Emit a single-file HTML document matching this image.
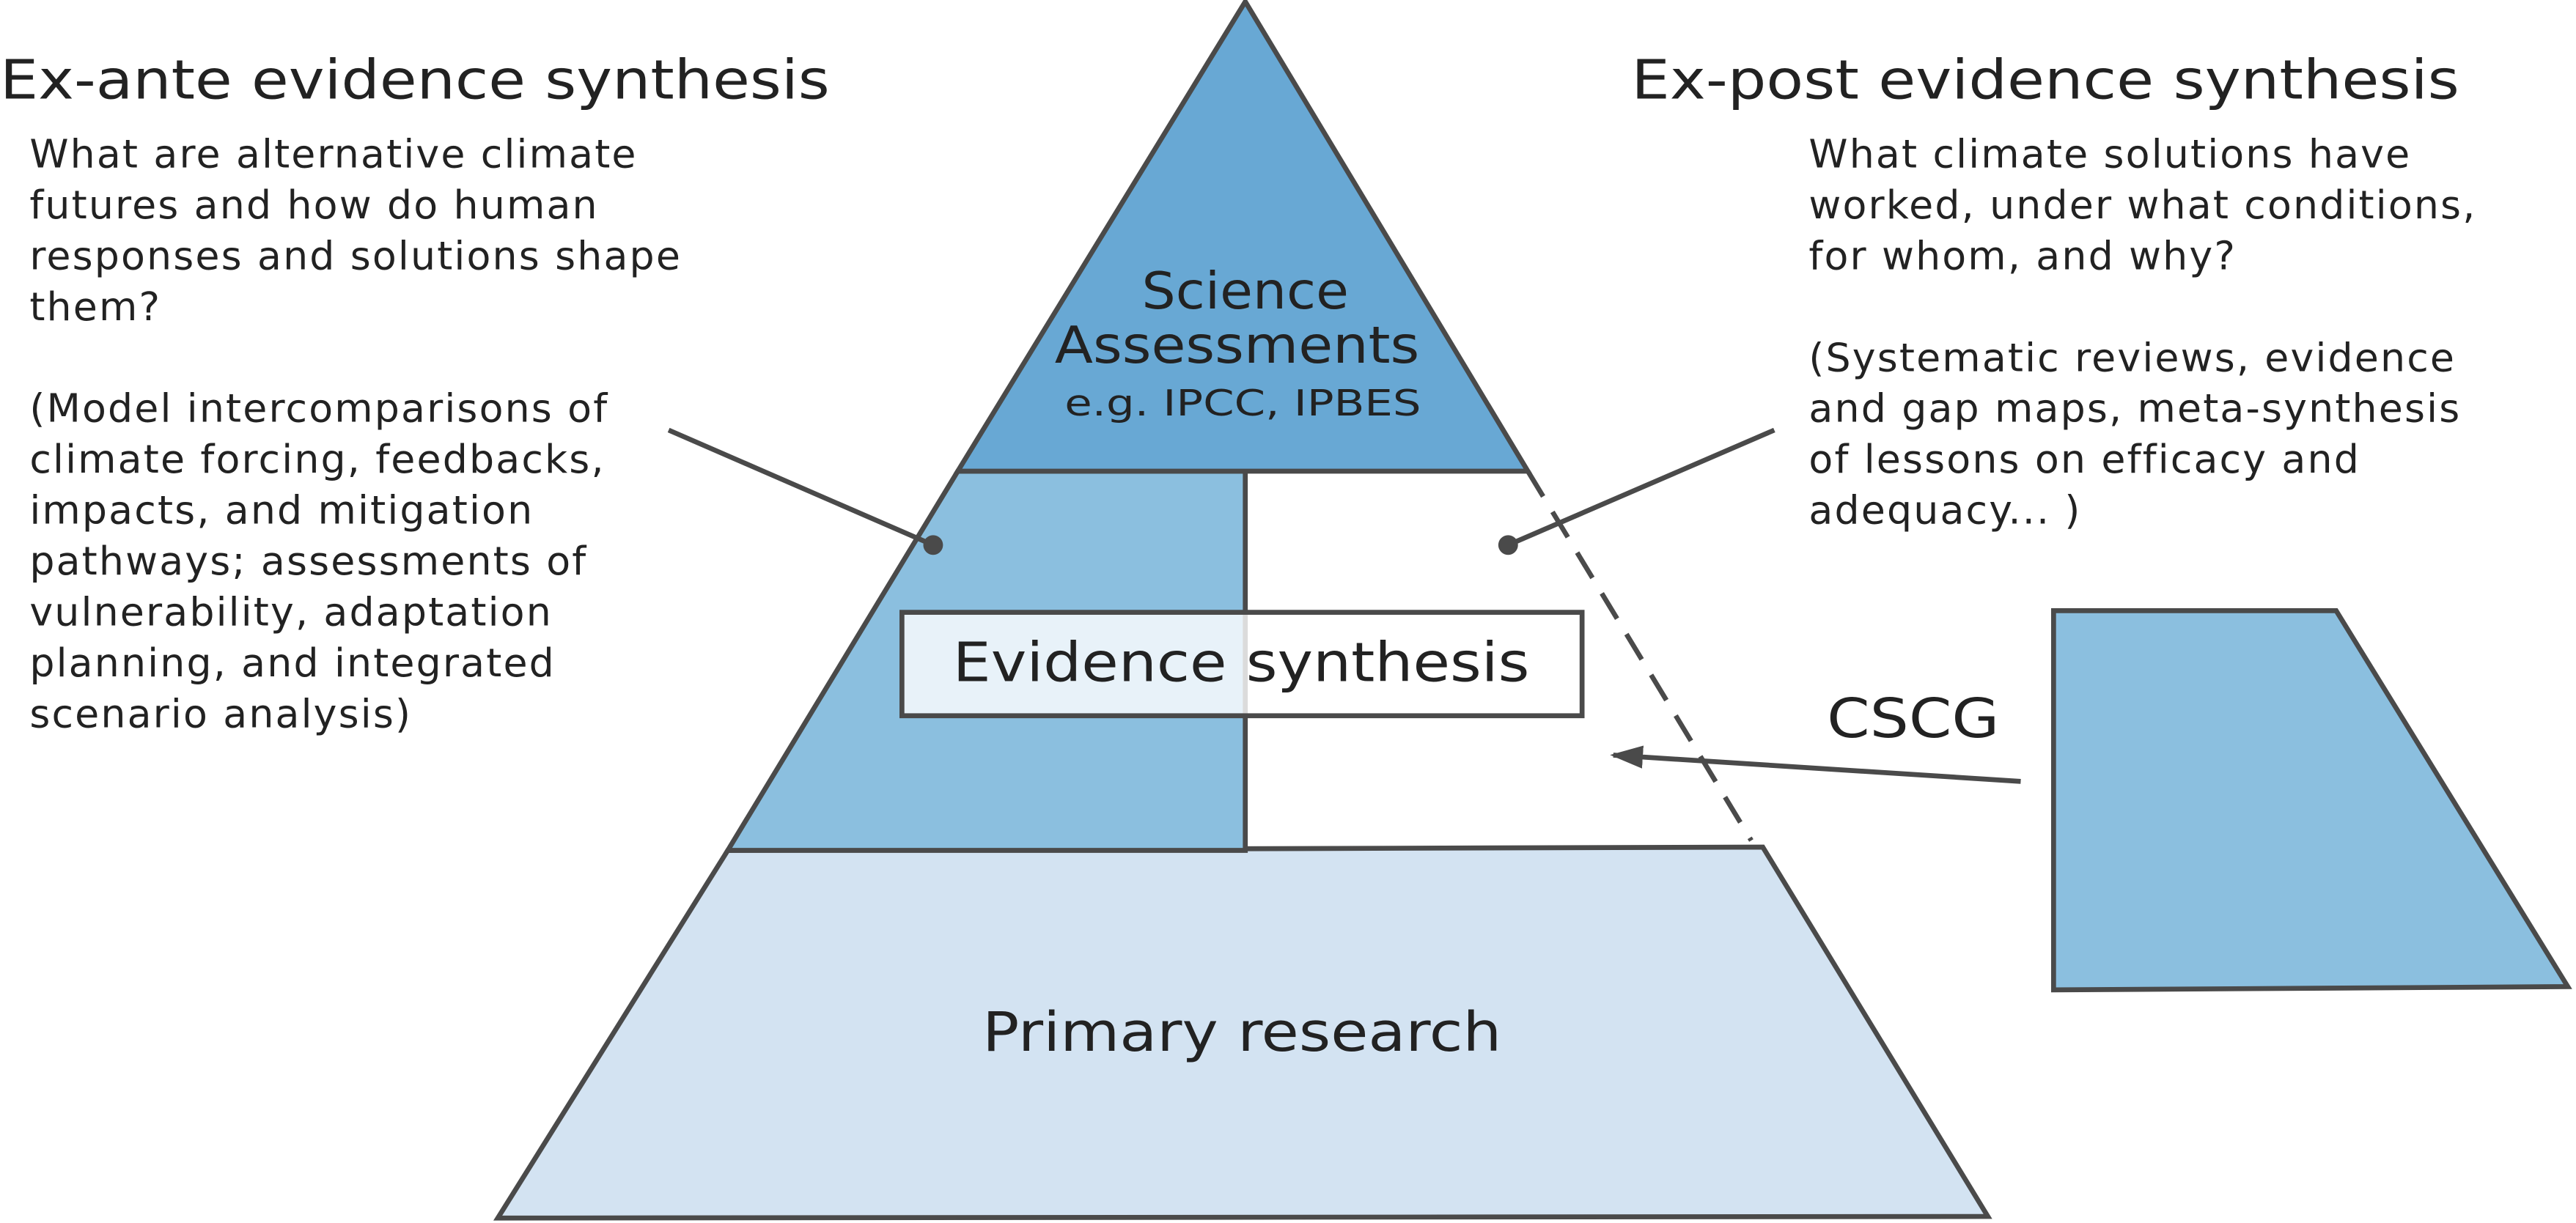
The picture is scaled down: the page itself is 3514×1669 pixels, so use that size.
<!DOCTYPE html>
<html><head><meta charset="utf-8">
<style>
html,body{margin:0;padding:0;background:#fff;}
svg{display:block;}
text{font-family:"DejaVu Sans","Liberation Sans",sans-serif;fill:#222;}
</style></head>
<body>
<svg width="3514" height="1669" viewBox="0 0 1568 745" preserveAspectRatio="none" xmlns="http://www.w3.org/2000/svg">
  <defs>
    <marker id="ah" markerWidth="20" markerHeight="14" refX="18" refY="7" orient="auto" markerUnits="userSpaceOnUse" viewBox="0 0 20 14">
      <path d="M0,0 L20,7 L0,14 z" fill="#4a4a4a"/>
    </marker>
  </defs>
  <polygon points="443,518 1073,516 1210,741 303,742" fill="#d3e3f2" stroke="#4a4a4a" stroke-width="3"/>
  <polygon points="583,287 758,287 758,518 443,518" fill="#8bbfdf" stroke="#4a4a4a" stroke-width="3"/>
  <line x1="930" y1="287" x2="1066" y2="512" stroke="#4a4a4a" stroke-width="3" stroke-dasharray="18,11"/>
  <polygon points="758,1 930,287 583,287" fill="#68a8d4" stroke="#4a4a4a" stroke-width="3"/>
  <text x="695" y="188" font-size="31" textLength="126" lengthAdjust="spacingAndGlyphs">Science</text>
  <text x="642" y="221" font-size="31" textLength="222" lengthAdjust="spacingAndGlyphs">Assessments</text>
  <text x="648" y="253" font-size="22" textLength="217" lengthAdjust="spacingAndGlyphs">e.g. IPCC, IPBES</text>
  <rect x="549" y="373" width="414" height="63" fill="#fff" fill-opacity="0.8" stroke="#4a4a4a" stroke-width="3"/>
  <text x="580" y="415" font-size="33" textLength="351" lengthAdjust="spacingAndGlyphs">Evidence synthesis</text>
  <text x="598" y="640" font-size="33" textLength="316" lengthAdjust="spacingAndGlyphs">Primary research</text>
  <line x1="407" y1="262" x2="568" y2="332" stroke="#4a4a4a" stroke-width="3"/>
  <circle cx="568" cy="332" r="6" fill="#4a4a4a"/>
  <line x1="1080" y1="262" x2="918" y2="332" stroke="#4a4a4a" stroke-width="3"/>
  <circle cx="918" cy="332" r="6" fill="#4a4a4a"/>
  <polygon points="1250,372 1422,372 1563,601 1250,603" fill="#8bbfdf" stroke="#4a4a4a" stroke-width="3"/>
  <text x="1112" y="449" font-size="33" textLength="105" lengthAdjust="spacingAndGlyphs">CSCG</text>
  <line x1="1230" y1="476" x2="982" y2="460" stroke="#4a4a4a" stroke-width="3" marker-end="url(#ah)"/>
  <text x="0" y="60" font-size="33" textLength="505" lengthAdjust="spacingAndGlyphs">Ex-ante evidence synthesis</text>
  <text x="993" y="60" font-size="33" textLength="504" lengthAdjust="spacingAndGlyphs">Ex-post evidence synthesis</text>
  <g font-size="24" letter-spacing="0.95">
    <text x="18" y="102">What are alternative climate</text>
    <text x="18" y="133">futures and how do human</text>
    <text x="18" y="164">responses and solutions shape</text>
    <text x="18" y="195">them?</text>
    <text x="18" y="257">(Model intercomparisons of</text>
    <text x="18" y="288">climate forcing, feedbacks,</text>
    <text x="18" y="319">impacts, and mitigation</text>
    <text x="18" y="350">pathways; assessments of</text>
    <text x="18" y="381">vulnerability, adaptation</text>
    <text x="18" y="412">planning, and integrated</text>
    <text x="18" y="443">scenario analysis)</text>
  </g>
  <g font-size="24" letter-spacing="0.95">
    <text x="1101" y="102">What climate solutions have</text>
    <text x="1101" y="133">worked, under what conditions,</text>
    <text x="1101" y="164">for whom, and why?</text>
    <text x="1101" y="226">(Systematic reviews, evidence</text>
    <text x="1101" y="257">and gap maps, meta-synthesis</text>
    <text x="1101" y="288">of lessons on efficacy and</text>
    <text x="1101" y="319">adequacy... )</text>
  </g>
</svg>
</body></html>
